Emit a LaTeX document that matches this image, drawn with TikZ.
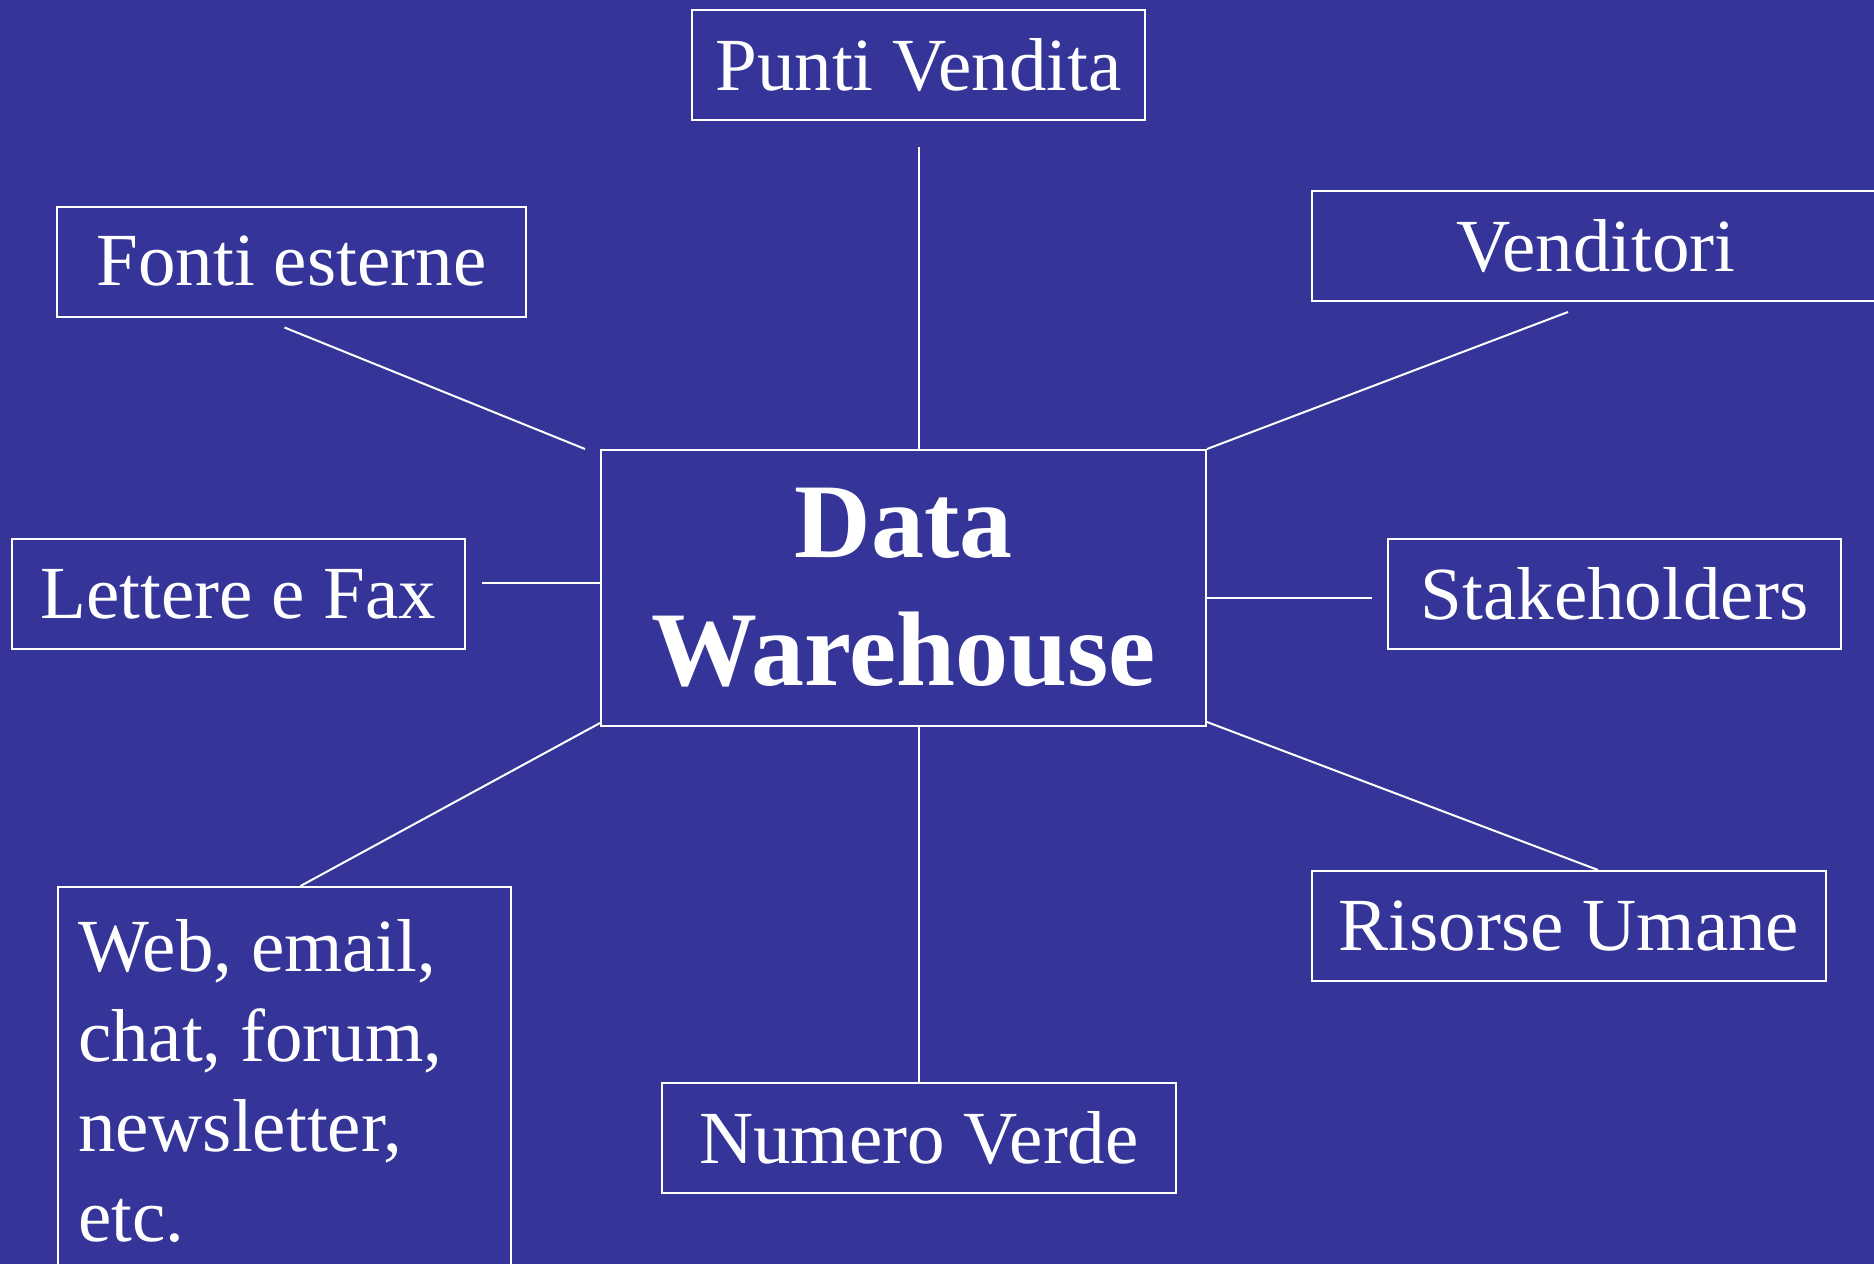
\documentclass[tikz,border=0pt]{standalone}
\usepackage{fontspec}
\setmainfont{Liberation Serif}
\usepackage{tikz}
\usetikzlibrary{calc}
\usetikzlibrary{positioning}
\definecolor{slide}{RGB}{53,53,153}
\frenchspacing

\begin{document}
\begin{tikzpicture}[x=1pt,y=-1pt,
    every node/.style = {align=center, text=white},
    src/.style = {draw=white, line width=2pt, minimum height=110pt, inner sep=0pt,
        font=\fontsize{75}{90}\selectfont},
    hub/.style = {draw=white, line width=2pt, minimum width=605pt, minimum height=276pt,
        inner sep=0pt, font=\fontsize{106}{128}\selectfont\bfseries},
    link/.style = {draw=white, line width=2pt}]
\useasboundingbox (0,0) rectangle (1874,1264);
\clip (0,0) rectangle (1874,1264);
\fill [slide] (0,0) rectangle (1874,1264);
\node [hub] (dw) at (903.5,588) {Data\\Warehouse};
\node [src, minimum width=453pt] (punti) at (918.5,65) {Punti Vendita};
\node [src, minimum width=469pt] (fonti) at (291.5,261.5) {Fonti esterne};
\node [src, minimum width=568pt] (vend) at (1596,246) {Venditori};
\node [src, minimum width=453pt] (lettere) at (238.5,594) {Lettere e Fax};
\node [src, minimum width=453pt] (stake) at (1614.5,594) {Stakeholders};
\node [src, minimum width=514pt] (numero) at (919,1138) {Numero Verde};
\node [src, minimum width=514pt] (risorse) at (1569,926) {Risorse Umane};
\node [src, anchor=north west, minimum width=453pt, align=flush left, text width=413pt,
    inner xsep=20pt, inner ysep=32pt] (web) at (57,886)
    {Web, email,\\chat, forum,\\newsletter,\\etc.};
\draw [link, shorten <=26pt] (punti.south) -- (punti.south |- dw.north);
\draw [link] ($(fonti.south)+(-7,10)$) -- ($(dw.north west)+(-15,0)$);
\draw [link] ($(vend.south)+(-28,10)$) -- (dw.north east);
\draw [link] ($(lettere.east)+(16,-11)$) -- ($(dw.west)+(0,-5)$);
\draw [link] ($(dw.east)+(0,10)$) -- ($(stake.west)+(-15,4)$);
\draw [link] ($(dw.south west)+(0,-4)$) -- ($(web.north)+(16,0)$);
\draw [link] (dw.south -| numero.north) -- (numero.north);
\draw [link] ($(dw.south east)+(0,-5)$) -- ($(risorse.north)+(29,0)$);
\end{tikzpicture}
\end{document}
